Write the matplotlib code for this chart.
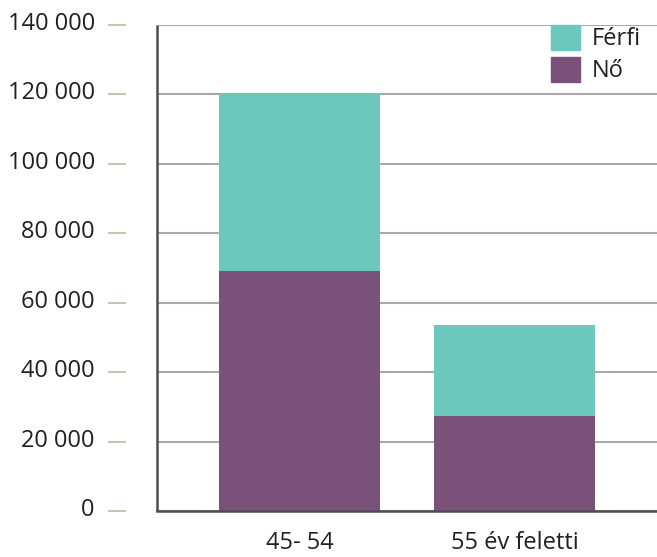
import matplotlib
matplotlib.use("Agg")
import matplotlib.pyplot as plt
import matplotlib.transforms as mtransforms
from matplotlib.patches import Patch

categories = ["45- 54", "55 év feletti"]
no_values = [69000, 27500]
ferfi_values = [51000, 26000]
yticks = [0, 20000, 40000, 60000, 80000, 100000, 120000, 140000]
ytick_labels = ["0", "20 000", "40 000", "60 000", "80 000", "100 000", "120 000", "140 000"]

plt.rcParams['font.family'] = ['Open Sans', 'DejaVu Sans']
teal = "#6cc7bc"
purple = "#7a5279"
txt = "#231f20"

fig = plt.figure(figsize=(6.57, 5.57), dpi=100)
ax = fig.add_axes([157/657, 1-511/557, 1-157/657, (511-25)/557])

x = list(range(len(categories)))
ax.bar(x, no_values, width=0.747, color=purple, zorder=3, label="Nő")
ax.bar(x, ferfi_values, bottom=no_values, width=0.747, color=teal, zorder=3, label="Férfi")

ax.set_xlim(-0.661, 1.659)
ax.set_ylim(0, 140000)
ax.set_yticks(yticks)
ax.set_yticklabels(ytick_labels)
ax.set_xticks(x)
ax.set_xticklabels(categories)

ax.grid(axis='y', color="#a9a9a9", linewidth=1.5, zorder=1)
ax.set_axisbelow(True)

for s in ['top', 'right']:
    ax.spines[s].set_visible(False)
ax.spines['left'].set_position(('outward', 22.3))
ax.spines['left'].set_color('none')
ax.spines['bottom'].set_color("#4d4d4d")
ax.spines['bottom'].set_linewidth(1.8)
ax.spines['bottom'].set_zorder(4)
ax.plot([0, 0], [0, 1], transform=ax.transAxes, color="#4d4d4d", linewidth=1.8,
        clip_on=False, zorder=4, solid_capstyle='butt')

ax.tick_params(axis='y', length=13, width=1.5, color="#c9c5b3", pad=9.5,
               labelsize=17, labelcolor=txt)
ax.tick_params(axis='x', length=0, pad=14.5, labelsize=17, labelcolor=txt)

shift = mtransforms.ScaledTranslation(0, 4/100, fig.dpi_scale_trans)
for lab in ax.get_yticklabels():
    lab.set_transform(lab.get_transform() + shift)

handles = [Patch(color=teal, label="Férfi"), Patch(color=purple, label="Nő")]
leg = fig.legend(handles=handles, loc='upper left', bbox_to_anchor=(551/657, 1-25/557),
                 frameon=False, fontsize=17, handlelength=1.23, handleheight=1.23,
                 handletextpad=0.5, labelspacing=0.25, borderpad=0, borderaxespad=0)
for t in leg.get_texts():
    t.set_color(txt)

fig.savefig("out.png", dpi=100)
